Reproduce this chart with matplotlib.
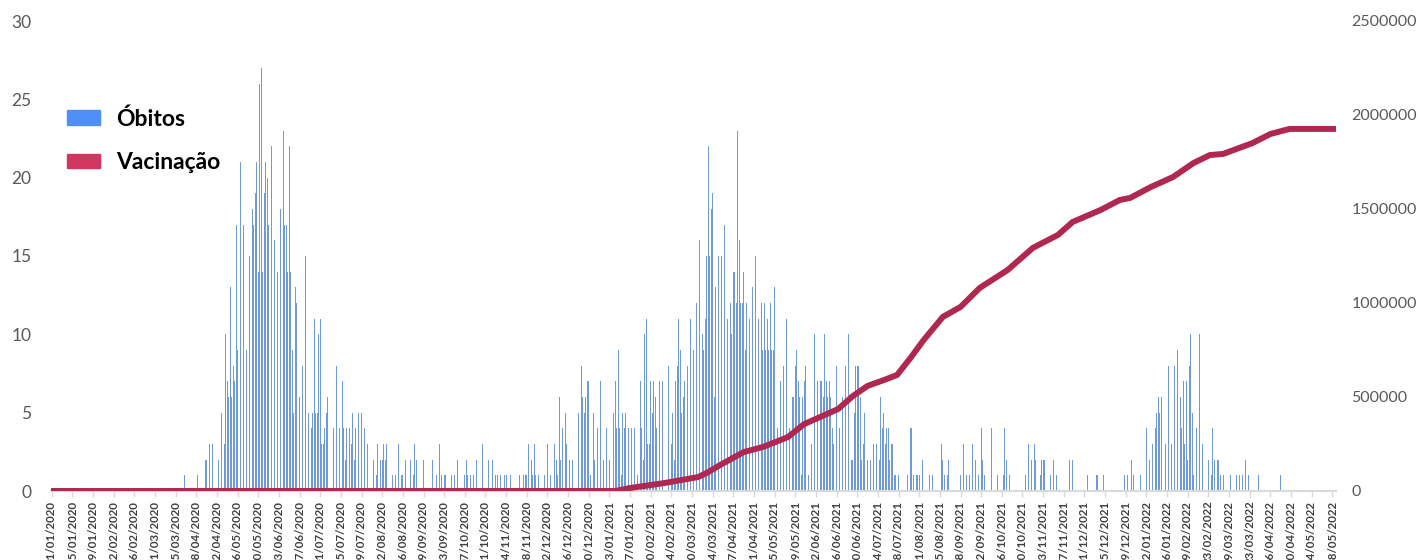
import numpy as np
import pandas as pd
import matplotlib
matplotlib.use("Agg")
import matplotlib.pyplot as plt
from matplotlib.patches import Patch
from matplotlib.ticker import FuncFormatter

plt.rcParams["font.family"] = ["Lato", "DejaVu Sans"]

inicio = pd.Timestamp("2020-01-01")
fim = pd.Timestamp("2022-05-20")

# óbitos diários a partir de 30/03/2020 (antes e depois: 0)
inicio_obitos = "30/03/2020"
obitos = [
    1, 1,                                                                   # mar 2020
    0, 0, 0, 0, 2, 0, 0, 0, 1, 0, 0, 0, 0, 2, 2, 1, 3, 3, 3, 3, 0, 1, 2, 2, 5, 3, 3, 10, 7, 6,  # abr
    13, 6, 8, 7, 17, 9, 9, 21, 18, 17, 15, 9, 20, 15, 19, 18, 17, 19, 21, 14, 26, 27, 14, 19, 21, 20, 17, 14, 22, 18, 16,  # mai
    16, 14, 20, 18, 15, 23, 17, 17, 14, 22, 14, 9, 5, 13, 12, 13, 6, 7, 8, 15, 15, 13, 5, 2, 4, 5, 11, 5, 5, 10,  # jun
    11, 3, 3, 4, 5, 6, 4, 0, 9, 4, 6, 8, 2, 4, 2, 7, 4, 2, 4, 0, 4, 3, 5, 2, 4, 2, 5, 3, 5, 3, 4,  # jul
    1, 3, 0, 0, 3, 2, 0, 1, 3, 0, 2, 2, 3, 2, 3, 1, 0, 3, 1, 1, 1, 2, 3, 2, 1, 1, 0, 2, 0, 0, 2,  # ago
    0, 1, 3, 2, 0, 1, 0, 0, 2, 0, 0, 0, 0, 2, 2, 0, 0, 1, 0, 3, 1, 0, 1, 1, 0, 0, 3, 1, 0, 1,  # set
    0, 2, 1, 0, 1, 0, 1, 2, 1, 0, 1, 0, 1, 0, 2, 1, 0, 1, 3, 0, 0, 1, 2, 0, 0, 2, 0, 1, 1, 0, 1,  # out
    0, 0, 1, 1, 0, 1, 1, 1, 0, 0, 0, 1, 1, 1, 0, 1, 1, 1, 3, 0, 2, 1, 3, 1, 0, 1, 1, 0, 1, 1,  # nov
    0, 3, 3, 1, 2, 0, 3, 2, 1, 6, 2, 4, 0, 5, 3, 6, 2, 6, 2, 4, 0, 1, 5, 0, 8, 6, 5, 6, 7, 7, 1,  # dez
    0, 5, 2, 13, 4, 0, 7, 7, 2, 6, 4, 3, 2, 2, 0, 5, 7, 4, 9, 4, 1, 5, 4, 5, 6, 4, 4, 4, 7, 4, 4,  # jan 2021
    1, 2, 7, 4, 2, 10, 11, 3, 3, 7, 5, 7, 6, 4, 1, 7, 1, 7, 4, 0, 5, 8, 10, 3, 5, 2, 7, 8,  # fev
    11, 9, 5, 6, 7, 14, 8, 15, 11, 13, 9, 11, 12, 20, 16, 4, 10, 9, 11, 15, 22, 15, 18, 19, 6, 13, 17, 15, 14, 15, 16,  # mar
    17, 17, 11, 16, 12, 10, 14, 14, 12, 23, 16, 12, 12, 14, 9, 12, 13, 11, 12, 13, 11, 15, 16, 11, 11, 12, 9, 12, 9, 11,  # abr
    9, 12, 9, 9, 13, 6, 4, 8, 7, 9, 8, 9, 11, 7, 4, 7, 6, 6, 8, 9, 7, 6, 1, 6, 7, 8, 13, 1, 8, 3, 6,  # mai
    10, 9, 7, 10, 7, 7, 6, 10, 7, 6, 7, 6, 4, 3, 7, 8, 10, 4, 1, 6, 6, 8, 5, 10, 4, 2, 2, 5, 8, 8,  # jun
    8, 6, 2, 3, 5, 4, 2, 6, 2, 3, 3, 4, 3, 4, 2, 6, 4, 5, 3, 4, 4, 2, 3, 3, 1, 1, 1, 1, 1, 0, 1,  # jul
    0, 4, 1, 0, 4, 4, 1, 0, 1, 1, 1, 0, 2, 0, 2, 0, 2, 1, 1, 1, 1, 0, 1, 0, 0, 3, 2, 1, 0, 1, 2,  # ago
    0, 0, 0, 0, 1, 0, 1, 1, 0, 3, 2, 1, 0, 1, 0, 3, 0, 2, 0, 1, 0, 4, 2, 1, 0, 0, 0, 2, 4, 0,  # set
    0, 1, 1, 0, 0, 0, 1, 4, 2, 0, 1, 0, 0, 0, 0, 0, 1, 0, 1, 0, 0, 1, 0, 3, 1, 2, 0, 3, 2, 0, 0,  # out
    1, 2, 2, 2, 0, 0, 2, 1, 2, 2, 0, 1, 0, 0, 0, 0, 0, 0, 0, 0, 2, 0, 2, 0, 0, 0, 0, 0, 0, 0,  # nov
    0, 0, 1, 0, 0, 0, 0, 0, 1, 1, 0, 0, 0, 1, 0, 0, 0, 0, 1, 0, 0, 0, 0, 0, 0, 0, 0, 1, 0, 1, 0,  # dez
    0, 2, 1, 0, 0, 0, 0, 1, 0, 0, 0, 4, 0, 2, 0, 3, 0, 4, 5, 6, 5, 6, 0, 2, 3, 5, 8, 2, 3, 6, 8,  # jan 2022
    7, 9, 10, 6, 4, 7, 3, 7, 2, 8, 10, 5, 1, 4, 4, 3, 10, 4, 3, 3, 0, 2, 2, 0, 1, 4, 2, 0,  # fev
    2, 2, 1, 0, 1, 0, 3, 0, 1, 1, 1, 0, 0, 1, 0, 1, 0, 1, 0, 2, 0, 1, 0, 0, 0, 1, 0, 0, 1, 1, 0,  # mar
    0, 0, 0, 0, 0, 0, 0, 0, 0, 0, 0, 0, 1,                                  # abr
]

# vacinação acumulada
datas_vacinacao = [
    "01/01/2020", "17/01/2021", "27/01/2021", "19/02/2021", "14/03/2021", "20/03/2021",
    "29/03/2021", "14/04/2021", "27/04/2021", "09/05/2021", "14/05/2021", "25/05/2021",
    "05/06/2021", "17/06/2021", "27/06/2021", "07/07/2021", "18/07/2021", "27/07/2021",
    "05/08/2021", "14/08/2021", "27/08/2021", "08/09/2021", "21/09/2021", "10/10/2021",
    "27/10/2021", "13/11/2021", "23/11/2021", "12/12/2021", "25/12/2021", "01/01/2022",
    "15/01/2022", "30/01/2022", "13/02/2022", "24/02/2022", "05/03/2022", "25/03/2022",
    "06/04/2022", "19/04/2022", "20/05/2022",
]
vacinacao = [
    0, 0, 16000, 42000, 74000, 96000,
    138000, 207000, 234000, 271000, 287000, 356000,
    394000, 436000, 505000, 559000, 590000, 617000,
    707000, 803000, 926000, 979000, 1080000, 1176000,
    1293000, 1362000, 1431000, 1495000, 1548000, 1559000,
    1617000, 1670000, 1745000, 1787000, 1793000, 1851000,
    1899000, 1926000, 1926000,
]

n_dias = (fim - inicio).days + 1
serie_obitos = np.zeros(n_dias)
d0 = (pd.to_datetime(inicio_obitos, dayfirst=True) - inicio).days
serie_obitos[d0:d0 + len(obitos)] = obitos
dias = np.arange(n_dias)
x_vac = (pd.to_datetime(datas_vacinacao, dayfirst=True) - inicio).days

fig = plt.figure(figsize=(14.18, 5.60), dpi=100)
ax = fig.add_axes([51 / 1418, 1 - 491 / 560, (1336 - 51) / 1418, (491 - 21) / 560])
ax.bar(dias, serie_obitos, width=0.5, color="#6e9ad6", linewidth=0)
ax.set_xlim(-0.5, n_dias - 0.5)
ax.set_ylim(0, 30)
ax.set_yticks(range(0, 31, 5))

ticks = np.arange(0, n_dias, 14)
ax.set_xticks(ticks)
ax.set_xticklabels([(inicio + pd.Timedelta(days=int(t))).strftime("%d/%m/%Y") for t in ticks],
                   rotation=90, fontsize=8.3, fontweight="bold", color="#404040")
ax.tick_params(axis="x", length=4, width=1, color="#d9d9d9", pad=3)
ax.tick_params(axis="y", length=0, pad=14, labelsize=12.5, labelcolor="#595959")
for s in ["top", "right", "left"]:
    ax.spines[s].set_visible(False)
ax.spines["bottom"].set_color("#d9d9d9")
ax.spines["bottom"].set_linewidth(1.5)

ax2 = ax.twinx()
ax2.plot(x_vac, vacinacao, color="#b0284f", linewidth=4.3, solid_capstyle="round",
         solid_joinstyle="round")
ax2.set_ylim(0, 2500000)
ax2.set_yticks(range(0, 2500001, 500000))
ax2.yaxis.set_major_formatter(FuncFormatter(lambda v, p: f"{int(v)}"))
ax2.tick_params(axis="y", length=0, pad=11, labelsize=11.5, labelcolor="#595959")
for s in ax2.spines.values():
    s.set_visible(False)

handles = [Patch(color="#4f8ef7"), Patch(color="#d0365e")]
fig.legend(handles, ["Óbitos", "Vacinação"], loc="upper left",
           bbox_to_anchor=(67 / 1418, 1 - 108 / 560), frameon=False,
           prop={"size": 16.5, "weight": "bold"}, handlelength=1.45, handleheight=0.58,
           handletextpad=0.68, labelspacing=1.0, borderpad=0, borderaxespad=0)

fig.savefig("out.png", dpi=100)
